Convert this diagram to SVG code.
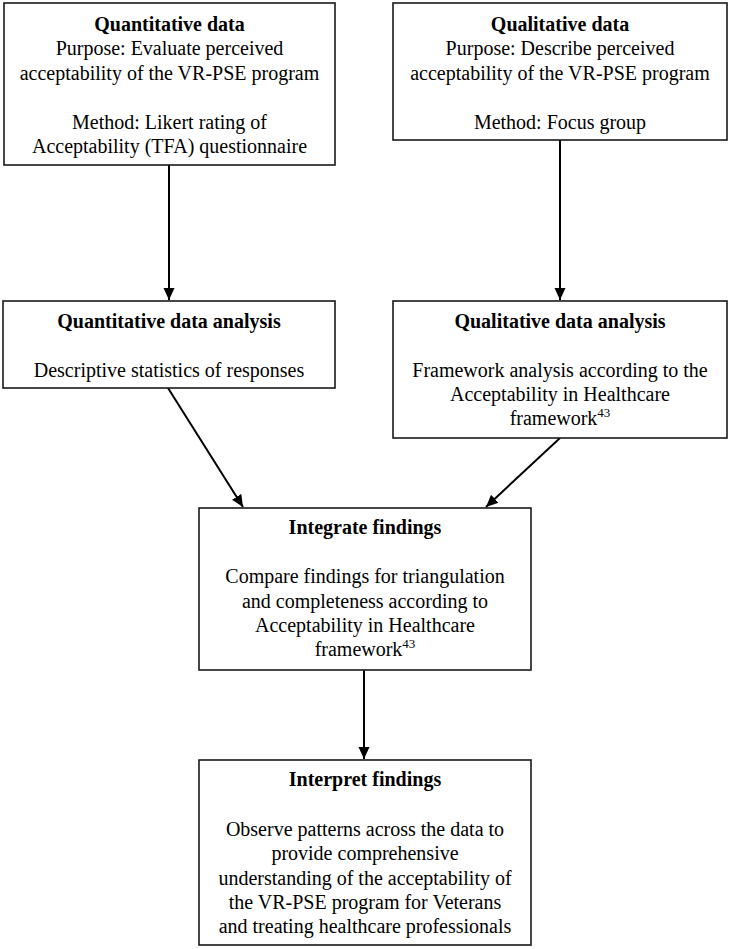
<svg xmlns="http://www.w3.org/2000/svg" width="729" height="949" viewBox="0 0 729 949">
<style>
.box{fill:#fff;stroke:#1a1a1a;stroke-width:1.6}
text{font-family:"Liberation Serif","Times New Roman",serif;font-size:20px;fill:#000;text-anchor:middle}
.t{font-weight:bold}
.sup{font-size:13px}
.c{stroke:#000;stroke-width:2;fill:none}
</style>
<defs>
<marker id="ah" viewBox="0 0 12 12" refX="12" refY="6" markerWidth="12" markerHeight="12" markerUnits="userSpaceOnUse" orient="auto">
<path d="M0,0.5 L12,6 L0,11.5 z" fill="#000"/>
</marker>
</defs>
<rect width="729" height="949" fill="#fff"/>
<g id="connectors">
<line class="c" x1="169" y1="165" x2="169" y2="300" marker-end="url(#ah)"/>
<line class="c" x1="560" y1="140" x2="560" y2="300" marker-end="url(#ah)"/>
<line class="c" x1="168" y1="388" x2="243" y2="507" marker-end="url(#ah)"/>
<line class="c" x1="560" y1="438" x2="486" y2="507" marker-end="url(#ah)"/>
<line class="c" x1="364" y1="670" x2="364" y2="759" marker-end="url(#ah)"/>
</g>
<g id="quantitative-data">
<rect class="box" x="4" y="3" width="331" height="162"/>
<text class="t" x="169.5" y="31">Quantitative data</text>
<text x="169.5" y="55">Purpose: Evaluate perceived</text>
<text x="169.5" y="80">acceptability of the VR-PSE program</text>
<text x="169.5" y="129">Method: Likert rating of</text>
<text x="169.5" y="153">Acceptability (TFA) questionnaire</text>
</g>
<g id="qualitative-data">
<rect class="box" x="393" y="3" width="334" height="137"/>
<text class="t" x="560" y="31">Qualitative data</text>
<text x="560" y="55">Purpose: Describe perceived</text>
<text x="560" y="80">acceptability of the VR-PSE program</text>
<text x="560" y="129">Method: Focus group</text>
</g>
<g id="quantitative-analysis">
<rect class="box" x="3" y="301" width="332" height="87"/>
<text class="t" x="169" y="328">Quantitative data analysis</text>
<text x="169" y="377">Descriptive statistics of responses</text>
</g>
<g id="qualitative-analysis">
<rect class="box" x="393" y="301" width="334" height="137"/>
<text class="t" x="560" y="328">Qualitative data analysis</text>
<text x="560" y="377">Framework analysis according to the</text>
<text x="560" y="401">Acceptability in Healthcare</text>
<text x="560" y="425">framework<tspan class="sup" dy="-8">43</tspan></text>
</g>
<g id="integrate-findings">
<rect class="box" x="199" y="508" width="332" height="162"/>
<text class="t" x="365" y="534">Integrate findings</text>
<text x="365" y="583">Compare findings for triangulation</text>
<text x="365" y="608">and completeness according to</text>
<text x="365" y="632">Acceptability in Healthcare</text>
<text x="365" y="656">framework<tspan class="sup" dy="-8">43</tspan></text>
</g>
<g id="interpret-findings">
<rect class="box" x="199" y="760" width="332" height="185"/>
<text class="t" x="365" y="786">Interpret findings</text>
<text x="365" y="836">Observe patterns across the data to</text>
<text x="365" y="860">provide comprehensive</text>
<text x="365" y="885">understanding of the acceptability of</text>
<text x="365" y="909">the VR-PSE program for Veterans</text>
<text x="365" y="933">and treating healthcare professionals</text>
</g>
</svg>
